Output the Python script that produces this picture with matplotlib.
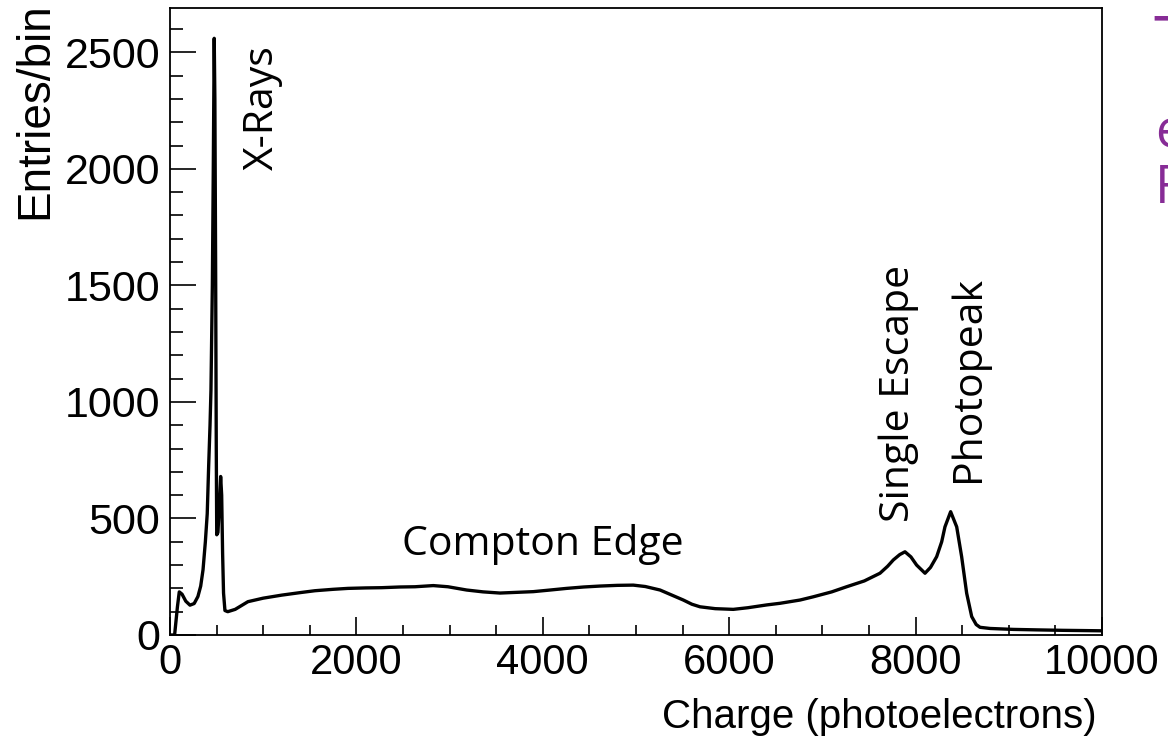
import numpy as np
import matplotlib.pyplot as plt
from matplotlib.ticker import MultipleLocator

# spectrum: charge (photoelectrons) vs entries/bin
charge = [0, 50, 80, 100, 130, 170, 215, 260, 300, 330, 355, 380, 400, 415, 430,
          440, 455, 465, 475, 482, 490, 497, 502, 515, 530, 544, 555, 565, 575,
          590, 620, 700, 837, 1000, 1198, 1400, 1556, 1750, 1910, 2100, 2271,
          2468, 2629, 2825, 2983, 3183, 3360, 3541, 3720, 3898, 4080, 4256, 4440,
          4614, 4800, 4971, 5100, 5258, 5380, 5508, 5600, 5687, 5850, 6044, 6200,
          6402, 6545, 6760, 6903, 7100, 7260, 7450, 7618, 7700, 7761, 7830, 7886,
          7950, 8011, 8101, 8160, 8226, 8280, 8315, 8376, 8441, 8494, 8548, 8602,
          8650, 8691, 8800, 9049, 9300, 9585, 9800, 10000]
entries = [0, 0, 120, 185, 175, 145, 128, 135, 165, 210, 280, 400, 520, 720, 900,
           1050, 1500, 2000, 2560, 2300, 1600, 800, 430, 440, 560, 680, 600, 350, 180,
           105, 100, 110, 143, 158, 171, 182, 190, 196, 200, 202, 203,
           206, 207, 212, 207, 193, 185, 180, 183, 186, 193, 200, 206,
           210, 213, 214, 208, 193, 172, 150, 132, 121, 113, 110, 117,
           129, 136, 150, 164, 185, 207, 232, 265, 295, 322, 345, 357,
           335, 300, 265, 290, 336, 400, 464, 529, 464, 336, 179, 79,
           45, 33, 28, 24, 22, 20, 19, 18]

labels = ["X-Rays", "Compton Edge", "Single Escape", "Photopeak"]
label_x = [998, 4002, 7822, 8573]
label_y = [1994, 343, 485, 656]
label_rot = [90, 0, 90, 90]

# slide text on the right, cut off by the image edge
side_text = ["T", "e", "F"]
side_left = [1153, 1155, 1155]
side_base = [64, 147, 203]
side_size = [48, 38, 38]

plt.rcParams['font.family'] = ['Liberation Sans', 'DejaVu Sans']

fig = plt.figure(figsize=(11.68, 7.37), dpi=100)
ax = fig.add_axes([0.1455, 0.1384, 0.798, 0.8507])

ax.plot(charge, entries, color="black", lw=2.4)

ax.set_xlim(0, 10000)
ax.set_ylim(0, 2690)
ax.xaxis.set_major_locator(MultipleLocator(2000))
ax.xaxis.set_minor_locator(MultipleLocator(500))
ax.yaxis.set_major_locator(MultipleLocator(500))
ax.yaxis.set_minor_locator(MultipleLocator(100))
ax.tick_params(axis="both", which="both", direction="in", width=1.2)
ax.tick_params(axis="x", which="major", length=13, pad=6, labelsize=30)
ax.tick_params(axis="x", which="minor", length=7)
ax.tick_params(axis="y", which="major", length=19, pad=7, labelsize=31)
ax.tick_params(axis="y", which="minor", length=9.5)
for s in ax.spines.values():
    s.set_linewidth(1.3)

ax.set_xlabel("Charge (photoelectrons)", fontsize=29, ha="right", va="top")
ax.xaxis.set_label_coords(0.9946, -0.1)
ax.set_ylabel("Entries/bin", fontsize=33, rotation_mode="default", ha="center", va="top")
ax.yaxis.set_label_coords(-0.145, 1.01)

for t, x, y, r in zip(labels, label_x, label_y, label_rot):
    if r == 90:
        ax.text(x, y, t, rotation=90, ha="center", va="bottom", fontsize=29.5,
                family="Open Sans")
    else:
        ax.text(x, y, t, ha="center", va="baseline", fontsize=29.5, family="Open Sans")

for t, xl, yb, fs in zip(side_text, side_left, side_base, side_size):
    fig.text(xl / 1168, 1 - yb / 737, t, fontsize=fs,
             color="#872C96", family="Open Sans", va="baseline", ha="left")

fig.savefig("out.png", dpi=100)
